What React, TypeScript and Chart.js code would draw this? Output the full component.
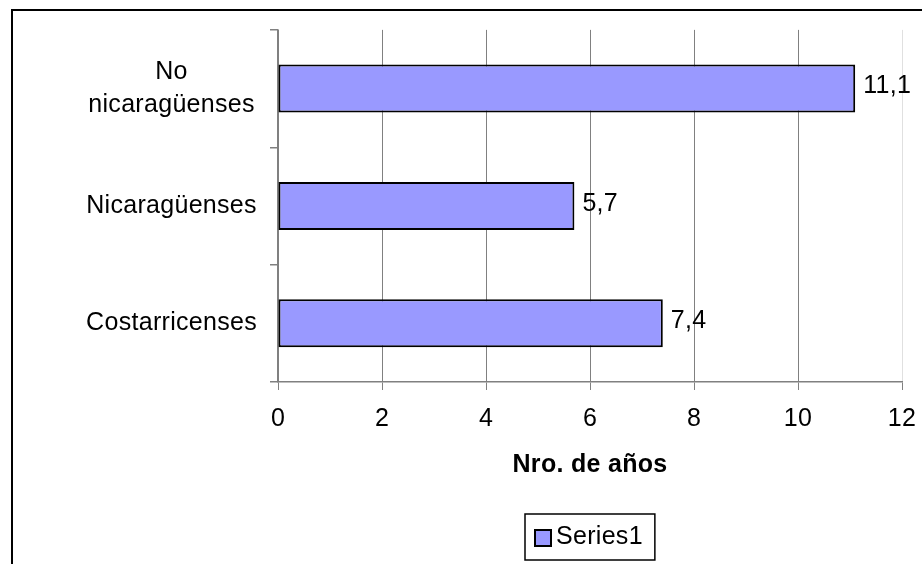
import React, { useEffect, useRef } from 'react';
import { Chart, registerables } from 'chart.js';

Chart.register(...registerables);

const categories: (string | string[])[] = [['No', 'nicaragüenses'], 'Nicaragüenses', 'Costarricenses'];
const values: number[] = [11.1, 5.7, 7.4];
const seriesLabel = 'Series1';
const axisTitle = 'Nro. de años';
const xMin = 0;
const xMax = 12;
const xStep = 2;

const FONT = "'Liberation Sans', Arial, sans-serif";
const FS = 25;
const SPACING = '0.3px';
const BAR_COLOR = '#9999FF';
const GRID = '#808080';

const spacingPlugin = {
  id: 'spacing',
  beforeLayout(chart: any) { chart.ctx.letterSpacing = SPACING; },
  beforeDraw(chart: any) { chart.ctx.letterSpacing = SPACING; },
};

const dataLabelPlugin = {
  id: 'dataLabels',
  afterDatasetsDraw(chart: any) {
    const ctx = chart.ctx;
    const meta = chart.getDatasetMeta(0);
    ctx.save();
    ctx.font = `${FS}px ${FONT}`;
    ctx.fillStyle = '#000';
    ctx.textAlign = 'left';
    ctx.textBaseline = 'middle';
    meta.data.forEach((bar: any, i: number) => {
      const v = chart.data.datasets[0].data[i] as number;
      ctx.fillText(v.toFixed(1).replace('.', ','), bar.x + 8, bar.y - 2);
    });
    ctx.restore();
  },
};

const legendPlugin = {
  id: 'boxLegend',
  afterDraw(chart: any) {
    const ctx = chart.ctx;
    const ds = chart.data.datasets[0];
    const area = chart.chartArea;
    const xs = chart.scales.x;
    ctx.save();
    ctx.font = `${FS}px ${FONT}`;
    const tw = ctx.measureText(ds.label).width;
    const padL = 10, marker = 16, gap = 5, padR = 12, h = 46;
    const w = padL + marker + gap + tw + padR;
    const cx = (area.left + area.right) / 2;
    const left = Math.round(cx - w / 2);
    const top = xs.bottom + 22;
    ctx.fillStyle = '#fff';
    ctx.fillRect(left, top, w, h);
    ctx.strokeStyle = '#000';
    ctx.lineWidth = 1.5;
    ctx.strokeRect(left, top, w, h);
    const my = top + h / 2;
    ctx.fillStyle = ds.backgroundColor;
    ctx.fillRect(left + padL, my - marker / 2 + 1, marker, marker);
    ctx.strokeStyle = '#000';
    ctx.lineWidth = 2;
    ctx.strokeRect(left + padL, my - marker / 2 + 1, marker, marker);
    ctx.fillStyle = '#000';
    ctx.textAlign = 'left';
    ctx.textBaseline = 'middle';
    ctx.fillText(ds.label, left + padL + marker + gap, my);
    ctx.restore();
  },
};

export default function App() {
  const ref = useRef<HTMLCanvasElement | null>(null);
  useEffect(() => {
    if (!ref.current) return;
    const chart = new Chart(ref.current, {
      type: 'bar',
      data: {
        labels: categories,
        datasets: [{
          label: seriesLabel,
          data: values,
          backgroundColor: BAR_COLOR,
          borderColor: '#000',
          borderWidth: 2,
          borderSkipped: false,
          categoryPercentage: 1,
          barPercentage: 0.41,
        }],
      },
      options: {
        indexAxis: 'y',
        responsive: false,
        animation: false,
        devicePixelRatio: 1,
        layout: { padding: { left: 0, top: 29, right: 20, bottom: 72 } },
        plugins: {
          legend: { display: false },
          tooltip: { enabled: false },
        },
        scales: {
          x: {
            type: 'linear',
            min: xMin,
            max: xMax,
            ticks: {
              stepSize: xStep,
              color: '#000',
              padding: 14,
              font: { family: FONT, size: FS },
              callback: (v: any) => String(v),
            },
            grid: {
              color: (c: any) => (c.tick && c.tick.value === xMax ? '#e0e0e0' : GRID),
              tickColor: GRID,
              lineWidth: 1,
              tickLength: 8,
              drawTicks: true,
            },
            border: { display: true, color: GRID, width: 1.5 },
            title: {
              display: true,
              text: axisTitle,
              color: '#000',
              font: { family: FONT, size: FS, weight: 'bold' },
              padding: { top: 0, bottom: 12 },
            },
            afterFit: (s: any) => { s.height = 110; s.paddingRight = 0; s.paddingLeft = 0; },
          },
          y: {
            type: 'category',
            offset: true,
            ticks: {
              color: '#000',
              padding: 13,
              crossAlign: 'center',
              font: { family: FONT, size: FS, lineHeight: 1.35 },
            },
            grid: {
              display: true,
              offset: true,
              drawOnChartArea: false,
              drawTicks: true,
              tickLength: 8,
              color: GRID,
              lineWidth: 1.5,
            },
            border: { display: true, color: GRID, width: 1.5 },
            afterFit: (s: any) => { s.width = 278; },
          },
        },
      },
      plugins: [spacingPlugin, dataLabelPlugin, legendPlugin],
    } as any);
    return () => chart.destroy();
  }, []);
  return (
    <div style={{ position: 'fixed', left: 0, top: 0, width: 922, height: 564, background: '#fff', overflow: 'hidden' }}>
      <canvas ref={ref} width={922} height={564} style={{ position: 'absolute', left: 0, top: 0, width: 922, height: 564 }} />
      <div style={{ position: 'absolute', left: 11, top: 9, right: -10, bottom: -10, borderTop: '2px solid #000', borderLeft: '2px solid #000', pointerEvents: 'none' }} />
    </div>
  );
}
